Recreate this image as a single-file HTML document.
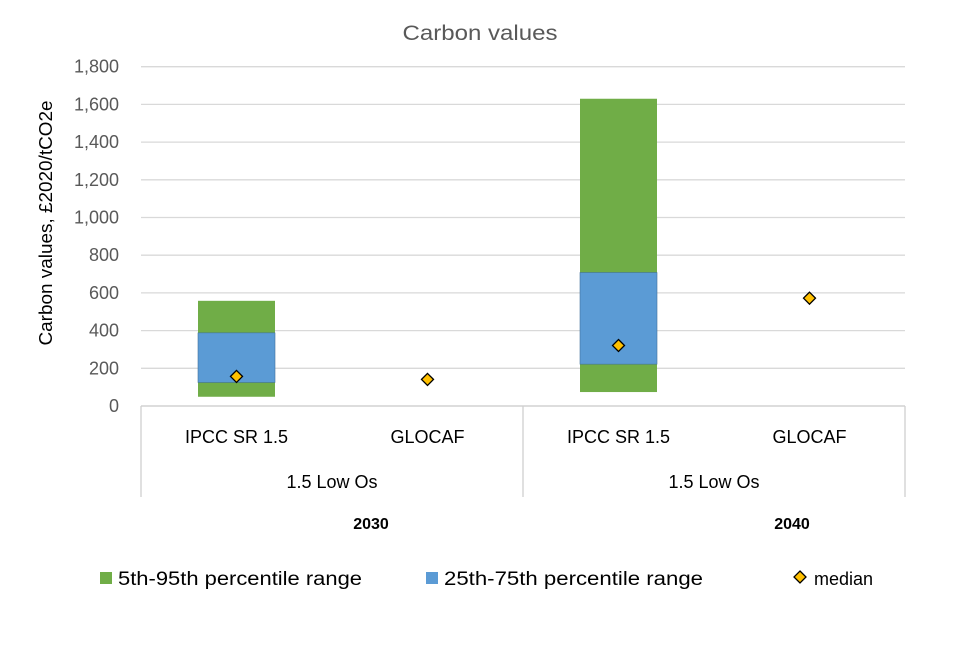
<!DOCTYPE html>
<html><head><meta charset="utf-8"><style>
body{margin:0;background:#fff}
svg text{font-family:"Liberation Sans",sans-serif}
</style></head><body>
<svg id="c" width="960" height="640">
<text x="480" y="40" text-anchor="middle" font-size="21" fill="#595959" textLength="155" lengthAdjust="spacingAndGlyphs">Carbon values</text>
<text transform="translate(52,223) rotate(-90)" text-anchor="middle" font-size="18" fill="#000" textLength="245" lengthAdjust="spacingAndGlyphs">Carbon values, £2020/tCO2e</text>
<g id="grid"></g><g id="marks"></g><g id="cat"></g>
<g>
<rect x="100" y="572" width="12" height="12" fill="#70ad47"/>
<text x="118" y="585" font-size="19" fill="#000" textLength="244" lengthAdjust="spacingAndGlyphs">5th-95th percentile range</text>
<rect x="426" y="572" width="12" height="12" fill="#5b9bd5"/>
<text x="444" y="585" font-size="19" fill="#000" textLength="259" lengthAdjust="spacingAndGlyphs">25th-75th percentile range</text>
<polygon points="800,571 806,577 800,583 794,577" fill="#ffc000" stroke="#000" stroke-width="1.3"/>
<text x="814" y="585" font-size="18" fill="#000">median</text>
</g>
</svg>
<script>
const categories=["IPCC SR 1.5","GLOCAF","IPCC SR 1.5","GLOCAF"];
const p5=[49,null,74,null];
const p25=[125,null,222,null];
const p75=[388,null,708,null];
const p95=[558,null,1630,null];
const median=[157,141,321,572];
const yTicks=[0,200,400,600,800,1000,1200,1400,1600,1800];
const groups=["1.5 Low Os","1.5 Low Os"];
const years=["2030","2040"];
const NS="http://www.w3.org/2000/svg";
const X0=141,X1=905,Y0=406,PX=0.1885;
const y=v=>Y0-v*PX;
const cw=(X1-X0)/categories.length;
const cx=i=>X0+cw*(i+0.5);
function mk(tag,attrs,parent,text){const e=document.createElementNS(NS,tag);for(const k in attrs)e.setAttribute(k,attrs[k]);if(text!=null)e.textContent=text;document.getElementById(parent).appendChild(e);return e;}
yTicks.forEach(t=>{
 const l=mk('line',{x1:X0,x2:X1,y1:y(t),y2:y(t),stroke:t===0?'#d0d0d0':'#d9d9d9','stroke-width':1.3},'grid');
 
 
 const tx=mk('text',{x:119,y:y(t)+6,'text-anchor':'end','font-size':18,fill:'#595959'},'grid',t.toLocaleString('en-US'));
 
 
});
const bw=77;
categories.forEach((c,i)=>{
 if(p95[i]!=null){
  const g=mk('rect',{x:cx(i)-bw/2,y:y(p95[i]),width:bw,height:y(p5[i])-y(p95[i]),fill:'#70ad47'},'marks');
  
  
  const b=mk('rect',{x:cx(i)-bw/2,y:y(p75[i]),width:bw,height:y(p25[i])-y(p75[i]),fill:'#5b9bd5',stroke:'#41719c','stroke-width':0.6},'marks');
  
  
 }
 const m=median[i],xx=cx(i),yy=y(m);
 const d=mk('polygon',{points:`${xx},${yy-6} ${xx+6},${yy} ${xx},${yy+6} ${xx-6},${yy}`,fill:'#ffc000',stroke:'#000','stroke-width':1.3},'marks');
 
 
 const t=mk('text',{x:xx,y:443,'text-anchor':'middle','font-size':18,fill:'#000'},'cat',c);
 
 
});
const ax=mk('line',{x1:X0,x2:X1,y1:Y0,y2:Y0,stroke:'#d0d0d0','stroke-width':1.3},'cat');


[X0,(X0+X1)/2,X1].forEach(x=>{
 const l=mk('line',{x1:x,x2:x,y1:Y0,y2:497,stroke:'#d0d0d0','stroke-width':1.3},'cat');
 
 
});
groups.forEach((g,i)=>{
 const t=mk('text',{x:X0+(X1-X0)/2*(i+0.5),y:488,'text-anchor':'middle','font-size':18,fill:'#000'},'cat',g);
 
 
});
const yx=[371,792];
years.forEach((g,i)=>{
 const t=mk('text',{x:yx[i],y:529,'text-anchor':'middle','font-size':16,'font-weight':'bold',fill:'#000'},'cat',g);
 
 
});
</script>
</body></html>
